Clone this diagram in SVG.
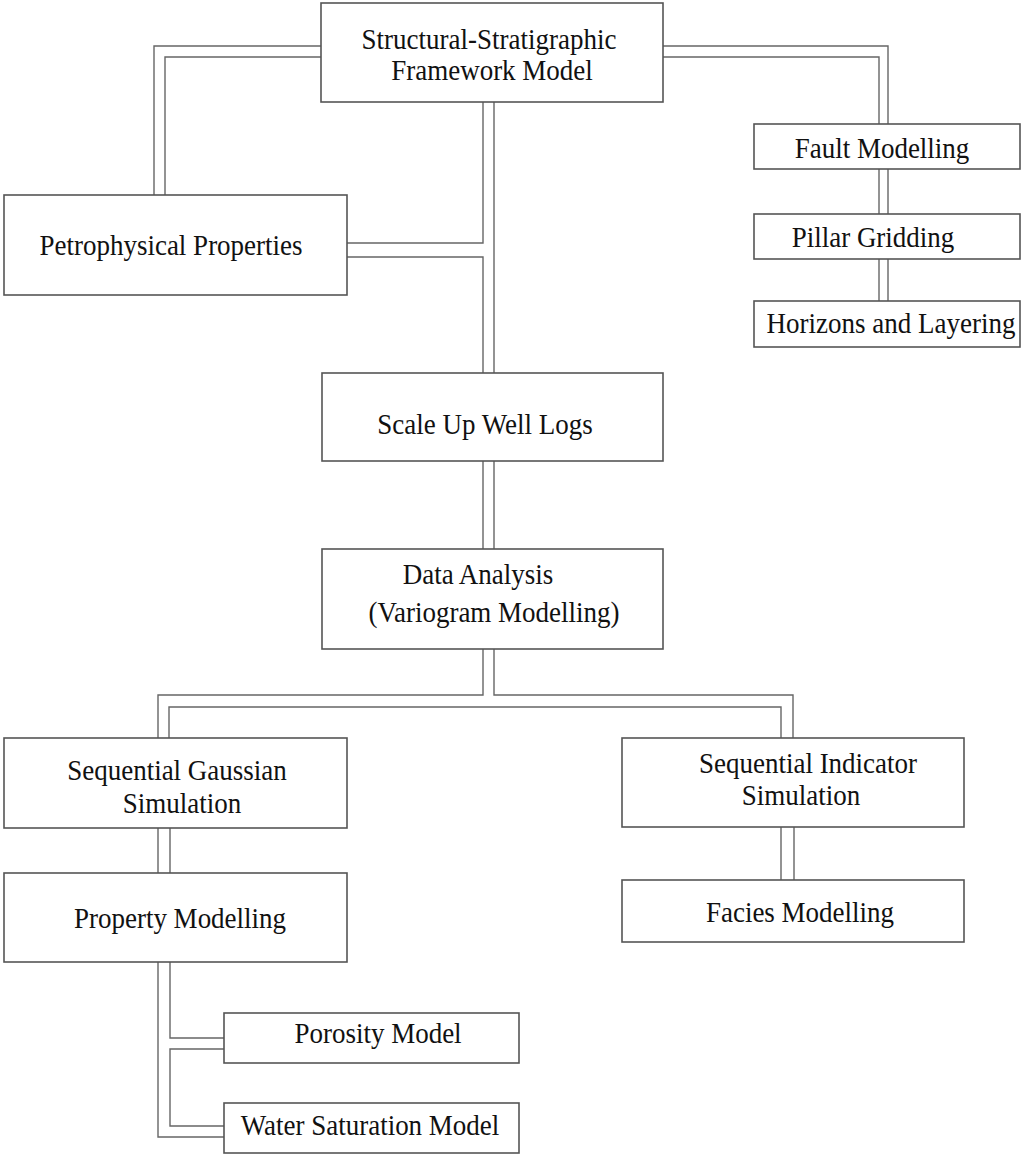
<svg xmlns="http://www.w3.org/2000/svg" width="1021" height="1154" viewBox="0 0 1021 1154">
<style>
.box{fill:#fff;stroke:#555;stroke-width:1.6}
.c{fill:none;stroke:#666;stroke-width:1.4}
text{font-family:"Liberation Serif","Times New Roman",serif;font-size:27px;fill:#111;text-anchor:middle}
</style>
<rect width="1021" height="1154" fill="#fff"/>
<g id="connectors">
<path class="c" d="M321,46 H154 V195 M321,57 H165 V195"/>
<path class="c" d="M663,46 H888 V124 M663,57 H879 V124"/>
<path class="c" d="M879,169 V214 M888,169 V214 M879,259 V301 M888,259 V301"/>
<path class="c" d="M483,102 V243 H347 M347,257 H483 V373 M494,102 V373"/>
<path class="c" d="M483,461 V549 M494,461 V549"/>
<path class="c" d="M483,649 V695 H158 V738 M494,649 V695 H793 V738 M169,738 V707 H781 V738"/>
<path class="c" d="M158,828 V873 M170,828 V873"/>
<path class="c" d="M781,827 V880 M794,827 V880"/>
<path class="c" d="M170,962 V1038 H224 M158,962 V1137 H224 M224,1049 H170 V1126 H224"/>
</g>
<g id="structural">
<rect class="box" x="321" y="3" width="342" height="99"/>
<text transform="translate(489,49) scale(1,1.1)">Structural-Stratigraphic</text>
<text transform="translate(492,80) scale(1,1.1)">Framework Model</text>
</g>
<g id="fault">
<rect class="box" x="754" y="124" width="266" height="45"/>
<text transform="translate(882,158) scale(1,1.1)">Fault Modelling</text>
</g>
<g id="pillar">
<rect class="box" x="754" y="214" width="266" height="45"/>
<text transform="translate(873,247) scale(1,1.1)">Pillar Gridding</text>
</g>
<g id="horizons">
<rect class="box" x="754" y="301" width="266" height="46"/>
<text transform="translate(891,333) scale(1,1.1)">Horizons and Layering</text>
</g>
<g id="petro">
<rect class="box" x="4" y="195" width="343" height="100"/>
<text transform="translate(171,255) scale(1,1.1)">Petrophysical Properties</text>
</g>
<g id="scaleup">
<rect class="box" x="322" y="373" width="341" height="88"/>
<text transform="translate(485,434) scale(1,1.1)">Scale Up Well Logs</text>
</g>
<g id="data">
<rect class="box" x="322" y="549" width="341" height="100"/>
<text transform="translate(478,584) scale(1,1.1)">Data Analysis</text>
<text transform="translate(494,622) scale(1,1.1)">(Variogram Modelling)</text>
</g>
<g id="sgs">
<rect class="box" x="4" y="738" width="343" height="90"/>
<text transform="translate(177,780) scale(1,1.1)">Sequential Gaussian</text>
<text transform="translate(182,813) scale(1,1.1)">Simulation</text>
</g>
<g id="sis">
<rect class="box" x="622" y="738" width="342" height="89"/>
<text transform="translate(808,773) scale(1,1.1)">Sequential Indicator</text>
<text transform="translate(801,805) scale(1,1.1)">Simulation</text>
</g>
<g id="property">
<rect class="box" x="4" y="873" width="343" height="89"/>
<text transform="translate(180,928) scale(1,1.1)">Property Modelling</text>
</g>
<g id="facies">
<rect class="box" x="622" y="880" width="342" height="62"/>
<text transform="translate(800,922) scale(1,1.1)">Facies Modelling</text>
</g>
<g id="porosity">
<rect class="box" x="224" y="1013" width="295" height="50"/>
<text transform="translate(378,1043) scale(1,1.1)">Porosity Model</text>
</g>
<g id="water">
<rect class="box" x="224" y="1103" width="295" height="50"/>
<text transform="translate(370,1135) scale(1,1.1)">Water Saturation Model</text>
</g>
</svg>
